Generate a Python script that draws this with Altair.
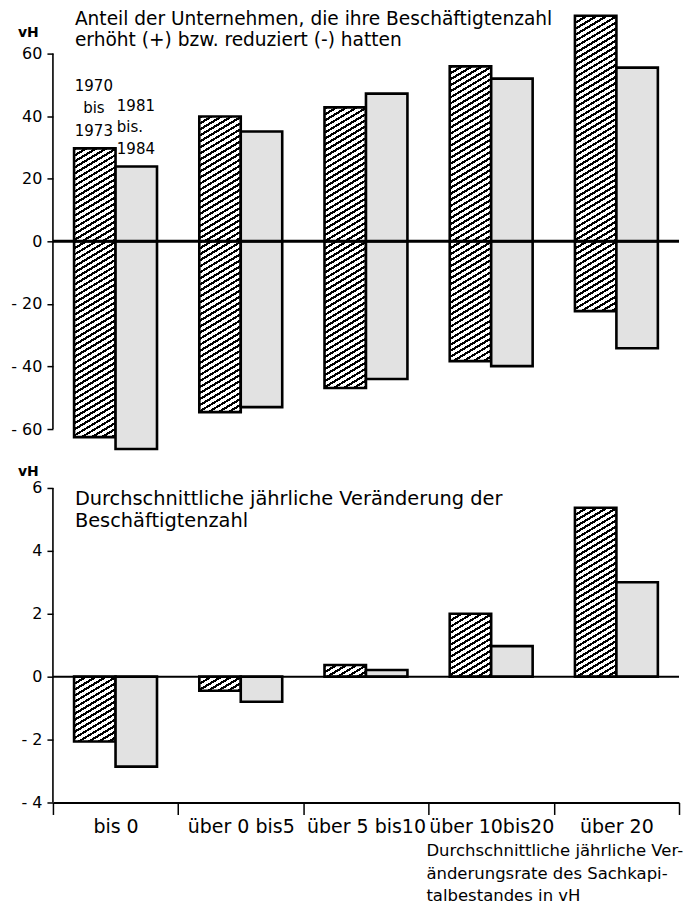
import json
import altair as alt
import pandas as pd

# ---------------- data ----------------
categories = ["bis 0", "über 0 bis5", "über 5 bis10", "über 10bis20", "über 20"]
series = ["1970 bis 1973", "1981 bis 1984"]
series_label_lines = [["1970", "bis", "1973"], ["1981", "bis.", "1984"]]

# top panel: share of firms that increased (+) / reduced (-) employment, vH
top_increase_1970 = [29.7, 39.9, 42.8, 55.9, 72.1]
top_reduce_1970 = [-62.6, -54.6, -46.9, -38.3, -22.3]
top_increase_1981 = [23.9, 35.1, 47.2, 52.0, 55.5]
top_reduce_1981 = [-66.4, -53.0, -44.0, -39.9, -34.2]

# bottom panel: average annual change of employment, vH
bottom_1970 = [-2.06, -0.45, 0.37, 2.0, 5.37]
bottom_1981 = [-2.86, -0.8, 0.21, 0.97, 3.0]

top_ticks = [-60, -40, -20, 0, 20, 40, 60]
bottom_ticks = [-4, -2, 0, 2, 4, 6]

top_title = ["Anteil der Unternehmen, die ihre Beschäftigtenzahl",
             "erhöht (+) bzw. reduziert (-) hatten"]
bottom_title = ["Durchschnittliche jährliche Veränderung der",
                "Beschäftigtenzahl"]
x_note = ["Durchschnittliche jährliche Ver-",
          "änderungsrate des Sachkapi-",
          "talbestandes in vH"]
unit = "vH"

# ---------------- layout / style ----------------
FONT = "DejaVu Sans"
W = 627
H_TOP = 450
H_BOT = 345
TOP_DOM = [-69.26, 74.36]
BOT_DOM = [-4.0, 6.95]
PAD_OUT = 0.51
BAR_W = W / len(categories) / (2 + 2 * PAD_OUT)
PXU_TOP = H_TOP / (TOP_DOM[1] - TOP_DOM[0])
PXU_BOT = H_BOT / (BOT_DOM[1] - BOT_DOM[0])
DOT_FILL = "#e2e2e2"

top_rows = []
for i, c in enumerate(categories):
    top_rows.append({"cat": c, "series": series[0], "value": top_increase_1970[i]})
    top_rows.append({"cat": c, "series": series[0], "value": top_reduce_1970[i]})
    top_rows.append({"cat": c, "series": series[1], "value": top_increase_1981[i]})
    top_rows.append({"cat": c, "series": series[1], "value": top_reduce_1981[i]})
top_df = pd.DataFrame(top_rows)

bot_rows = []
for i, c in enumerate(categories):
    bot_rows.append({"cat": c, "series": series[0], "value": bottom_1970[i]})
    bot_rows.append({"cat": c, "series": series[1], "value": bottom_1981[i]})
bot_df = pd.DataFrame(bot_rows)


def hatch_fill_expr(pxu):
    S = 0.6      # slope of hatch lines
    L = 290.0    # gradient length in px along (S*x + y)
    N = 48       # number of stripes
    frac = 0.42
    stops = []
    for i in range(N):
        a = round(i / N, 5)
        b = round((i + frac) / N, 5)
        c = round((i + 1) / N, 5)
        stops += [
            "{offset:%s,color:'#000'}" % a,
            "{offset:%s,color:'#000'}" % b,
            "{offset:%s,color:'#fff'}" % b,
            "{offset:%s,color:'#fff'}" % c,
        ]
    h = "(abs(datum.value)*%s)" % pxu
    den = "(%s+%s*%s)" % (S * S * BAR_W * BAR_W, h, h)
    obj = ("{gradient:'linear',x1:0,y1:0,x2:%s/%s,y2:%s*%s/%s,stops:[%s]}"
           % (L * S * BAR_W, den, L, h, den, ",".join(stops)))
    return "datum.series == '%s' ? %s : '%s'" % (series[0], obj, DOT_FILL)


def yaxis(ticks):
    return alt.Axis(values=ticks, domain=False, grid=False, ticks=True,
                    tickSize=6, tickWidth=1.5, tickColor="black",
                    labelFont=FONT, labelFontSize=16, labelColor="black",
                    labelPadding=5, labelOverlap=False,
                    labelExpr="datum.value < 0 ? '- ' + abs(datum.value) : '' + datum.value",
                    title=None, minExtent=45, maxExtent=45)


def panel(df, dom, h, pxu, ticks, xaxis, zero_width, titles, show_legend):
    yscale = alt.Scale(domain=dom, nice=False, zero=False)
    xscale = alt.Scale(domain=categories, paddingInner=0, paddingOuter=0)
    offscale = alt.Scale(domain=series, paddingInner=0, paddingOuter=PAD_OUT)
    ax = yaxis(ticks)

    bars = alt.Chart(df).transform_calculate(
        fillv=hatch_fill_expr(pxu)
    ).mark_bar(stroke="black", strokeWidth=2.6).encode(
        x=alt.X("cat:N", sort=categories, scale=xscale, axis=xaxis),
        xOffset=alt.XOffset("series:N", sort=series, scale=offscale),
        y=alt.Y("value:Q", stack=None, scale=yscale, axis=ax),
        fill=alt.Fill("fillv:N", scale=None, legend=None),
    )

    one = alt.Data(values=[{"k": 1}])
    axis_line = alt.Chart(one).mark_rule(color="black", strokeWidth=1.6).encode(
        x=alt.value(0),
        y=alt.Y(datum=max(ticks), scale=yscale, axis=ax),
        y2=alt.datum(min(ticks)),
    )
    zero_line = alt.Chart(one).mark_rule(color="black", strokeWidth=zero_width).encode(
        x=alt.value(0), x2=alt.value(W),
        y=alt.Y(datum=0, scale=yscale, axis=ax),
    )
    layers = [bars, zero_line, axis_line]

    lbl_y, ttl_y = titles[0], titles[1]
    layers.append(alt.Chart(one).mark_text(
        font=FONT, fontSize=14, fontWeight="bold", align="left", baseline="alphabetic"
    ).encode(x=alt.value(-35), y=alt.value(lbl_y), text=alt.value(unit)))
    layers.append(alt.Chart(one).mark_text(
        font=FONT, fontSize=titles[3], align="left", baseline="alphabetic", lineHeight=titles[4]
    ).encode(x=alt.value(22), y=alt.value(ttl_y), text=alt.value(titles[2])))

    if show_legend:
        layers.append(alt.Chart(one).mark_text(
            font=FONT, fontSize=15, align="center", baseline="alphabetic", lineHeight=23
        ).encode(x=alt.value(41), y=alt.value(82), text=alt.value(series_label_lines[0])))
        layers.append(alt.Chart(one).mark_text(
            font=FONT, fontSize=15, align="left", baseline="alphabetic", lineHeight=22
        ).encode(x=alt.value(64), y=alt.value(102), text=alt.value(series_label_lines[1])))
    else:
        layers.append(alt.Chart(one).mark_text(
            font=FONT, fontSize=16.5, align="left", baseline="alphabetic", lineHeight=22.5
        ).encode(x=alt.value(374), y=alt.value(399), text=alt.value(x_note)))

    return alt.layer(*layers).properties(width=W, height=h)


bottom_xaxis = alt.Axis(title=None, tickBand="extent", domain=True, domainColor="black",
                        domainWidth=2, tickColor="black", tickSize=12, tickWidth=1.5,
                        labelFont=FONT, labelFontSize=19, labelColor="black",
                        labelPadding=3, labelAngle=0, labelOverlap=False)

top = panel(top_df, TOP_DOM, H_TOP, PXU_TOP, top_ticks, None, 3,
            (28, 16, top_title, 18.6, 21), True)
bottom = panel(bot_df, BOT_DOM, H_BOT, PXU_BOT, bottom_ticks, bottom_xaxis, 2,
               (18, 47, bottom_title, 19.4, 22), False)

chart = alt.vconcat(top, bottom, spacing=0).properties(padding=0).configure_view(
    stroke=None
).configure_concat(spacing=0)

chart.save("out.html", embed_options={"renderer": "svg", "actions": False})
